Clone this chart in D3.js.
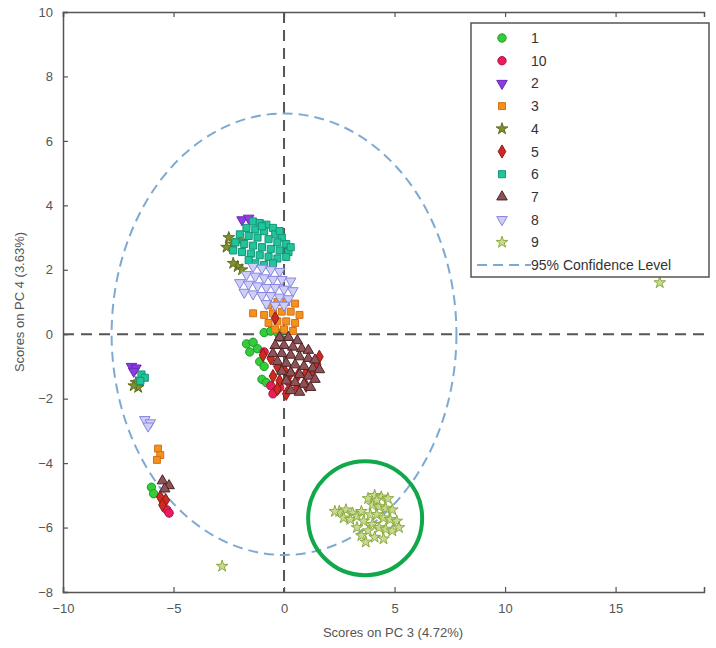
<!DOCTYPE html>
<html>
<head>
<meta charset="utf-8">
<script src="https://cdn.jsdelivr.net/npm/d3@7"></script>
<style>
  body { margin: 0; background: #fff; }
  svg { display: block; font-family: "Liberation Sans", Arial, sans-serif; }
</style>
</head>
<body>
<div id="chart"></div>
<script>
// class labels in legend order
const classes = ['1', '10', '2', '3', '4', '5', '6', '7', '8', '9'];

// scores [PC3, PC4] per class
const pts1 = [[-1.7,-0.3],[-1.4,-0.25],[-1.2,-0.45],[-1.55,-0.55],[-0.9,0.05],[-0.6,0.1],[-0.3,0.05],[-1.1,-0.85],[-0.9,-1.0],[-1.0,-1.4],[-0.8,-1.5],[-0.2,-0.1],[-6.0,-4.75],[-5.9,-4.95]];
const pts10 = [[-0.6,-1.6],[-0.35,-1.75],[-0.5,-1.85],[-0.2,-1.65],[-0.9,-0.55],[-5.3,-5.45],[-5.2,-5.55]];
const pts2 = [[-1.9,3.55],[-1.6,3.6],[-6.9,-1.0],[-6.7,-1.05],[-6.8,-1.15]];
const pts3 = [[-0.7,0.9],[-0.3,1.0],[0.1,1.0],[0.5,0.95],[-0.9,0.6],[-0.5,0.65],[-0.1,0.7],[0.3,0.7],[0.7,0.6],[-0.7,0.35],[-0.3,0.4],[0.1,0.4],[0.5,0.35],[-0.4,0.15],[0.0,0.15],[0.4,0.1],[-1.4,0.65],[-5.7,-3.55],[-5.6,-3.75],[-5.75,-3.9]];
const pts4 = [[-2.5,3.0],[-2.3,2.8],[-2.6,2.7],[-2.1,2.1],[-1.9,2.0],[-2.3,2.2],[-2.0,2.9],[-6.7,-1.5],[-6.6,-1.65],[-6.8,-1.6]];
const pts5 = [[-0.95,-0.65],[-0.6,-0.75],[-0.3,-1.0],[0.0,-1.1],[0.3,-1.2],[0.65,-1.25],[1.0,-1.2],[1.3,-1.1],[1.5,-0.95],[1.6,-0.7],[-0.5,-1.3],[-0.2,-1.45],[0.2,-1.5],[0.6,-1.65],[1.0,-1.6],[-0.3,-1.7],[0.1,-1.85],[-0.4,0.5],[-5.6,-5.05],[-5.35,-5.15],[-5.5,-5.3]];
const pts6 = [[-1.4,3.5],[-1.1,3.45],[-0.8,3.4],[-0.5,3.3],[-1.7,3.3],[-1.3,3.25],[-0.9,3.2],[-0.4,3.1],[-0.1,3.0],[-2.0,3.1],[-1.6,3.05],[-1.2,3.0],[-0.7,2.95],[-0.3,2.85],[0.1,2.8],[-2.2,2.85],[-1.8,2.8],[-1.4,2.75],[-1.0,2.7],[-0.6,2.65],[-0.2,2.6],[0.2,2.55],[-1.9,2.55],[-1.5,2.5],[-1.1,2.45],[-0.7,2.4],[-0.3,2.35],[0.1,2.4],[-1.3,2.2],[-0.9,2.15],[-0.5,2.2],[-1.6,2.3],[-2.3,2.6],[0.3,2.7],[-0.2,3.2],[-1.0,3.35],[-6.45,-1.25],[-6.3,-1.35],[-6.5,-1.45]];
const pts7 = [[-0.2,-0.1],[0.2,-0.1],[0.6,-0.2],[-0.4,-0.35],[0.0,-0.35],[0.4,-0.4],[0.8,-0.45],[1.1,-0.5],[-0.5,-0.6],[-0.1,-0.6],[0.3,-0.65],[0.7,-0.7],[1.1,-0.75],[1.4,-0.8],[-0.3,-0.85],[0.1,-0.9],[0.5,-0.95],[0.9,-1.0],[1.3,-1.05],[1.6,-1.1],[-0.1,-1.15],[0.3,-1.2],[0.7,-1.25],[1.1,-1.3],[1.4,-1.4],[0.1,-1.45],[0.5,-1.5],[0.9,-1.55],[1.2,-1.65],[0.3,-1.75],[0.7,-1.8],[-5.5,-4.55],[-5.2,-4.7],[-5.4,-4.8]];
const pts8 = [[-1.4,2.1],[-1.0,2.05],[-0.6,2.0],[-0.2,1.95],[-1.7,1.85],[-1.3,1.8],[-0.9,1.75],[-0.5,1.7],[-0.1,1.7],[0.3,1.65],[-2.0,1.6],[-1.6,1.55],[-1.2,1.5],[-0.8,1.45],[-0.4,1.45],[0.0,1.4],[0.4,1.35],[-1.4,1.25],[-1.0,1.2],[-0.6,1.2],[-0.2,1.15],[0.2,1.1],[-0.8,0.95],[-0.4,0.9],[0.0,0.9],[-1.8,1.3],[-6.3,-2.65],[-6.05,-2.75],[-6.15,-2.85]];
const pts9 = [[2.5,-5.5],[2.8,-5.45],[3.1,-5.55],[2.7,-5.7],[3.0,-5.75],[3.3,-5.65],[3.5,-5.5],[3.6,-5.8],[3.9,-5.6],[3.8,-5.1],[4.1,-5.0],[4.4,-5.05],[4.7,-5.1],[4.0,-5.3],[4.3,-5.35],[4.6,-5.4],[4.9,-5.45],[4.2,-5.6],[4.5,-5.7],[4.8,-5.75],[5.1,-5.8],[4.0,-5.9],[4.3,-6.0],[4.6,-6.05],[4.9,-6.1],[5.2,-6.0],[3.8,-6.1],[3.5,-6.25],[3.7,-6.45],[4.1,-6.3],[4.5,-6.35],[3.3,-6.0],[2.3,-5.5],[4.2,-5.15],[17.0,1.6],[-2.8,-7.2]];

const xTicks = [-10, -5, 0, 5, 10, 15];
const yTicks = [-8, -6, -4, -2, 0, 2, 4, 6, 8, 10];

// 95% confidence ellipse (semi axes) and highlighted group centre
const ellipse = { cx: 0, cy: 0, rx: 7.8, ry: 6.85 };
const highlight = [3.67, -5.71];

const series = [
  { name: '1', data: pts1, shape: d3.symbolCircle, size: 55, fill: '#33cc3a', stroke: '#1f9a2a' },
  { name: '10', data: pts10, shape: d3.symbolCircle, size: 55, fill: '#ea1c5c', stroke: '#b01245' },
  { name: '2', data: pts2, shape: 'down', size: 48, fill: '#8a3de0', stroke: '#6a26bb' },
  { name: '3', data: pts3, shape: d3.symbolSquare, size: 48, fill: '#f5921e', stroke: '#d0701a' },
  { name: '4', data: pts4, shape: d3.symbolStar, size: 42, fill: '#7f8f2c', stroke: '#5e6c1c' },
  { name: '5', data: pts5, shape: d3.symbolDiamond, size: 50, fill: '#cc2b22', stroke: '#8e1a14' },
  { name: '6', data: pts6, shape: d3.symbolSquare, size: 50, fill: '#22c49a', stroke: '#12957a' },
  { name: '7', data: pts7, shape: d3.symbolTriangle, size: 48, fill: '#8e5358', stroke: '#4c2224' },
  { name: '8', data: pts8, shape: 'down', size: 48, fill: '#cfcff6', stroke: '#8585e2' },
  { name: '9', data: pts9, shape: d3.symbolStar, size: 42, fill: '#c8da92', stroke: '#8aaa3c' },
];

const width = 716, height = 648;
const margin = { top: 12, left: 63, right: 12, bottom: 56 };

const svg = d3.select('#chart').append('svg').attr('width', width).attr('height', height);

const x = d3.scaleLinear().domain([-10, 19]).range([margin.left, width - margin.right]);
const y = d3.scaleLinear().domain([-8, 10]).range([height - margin.bottom, margin.top]);

const axisColor = '#555';

// axes, ticks inward
const gx = svg.append('g').attr('transform', `translate(0,${y(-8)})`)
  .call(d3.axisBottom(x).tickValues(xTicks).tickSize(-5).tickPadding(12));
const gy = svg.append('g').attr('transform', `translate(${x(-10)},0)`)
  .call(d3.axisLeft(y).tickValues(yTicks).tickSize(-5).tickPadding(10));
const gt = svg.append('g').attr('transform', `translate(0,${y(10)})`)
  .call(d3.axisTop(x).tickValues(xTicks).tickSize(-5).tickFormat(''));
[gx, gy, gt].forEach((g) => {
  g.select('.domain').attr('stroke', axisColor).attr('stroke-width', 1.5);
  g.selectAll('.tick line').attr('stroke', axisColor).attr('stroke-width', 1.2);
  g.selectAll('.tick text').attr('fill', '#555').attr('font-size', 13);
});

svg.append('text').attr('x', 393).attr('y', 637).attr('text-anchor', 'middle')
  .attr('font-size', 13).attr('fill', '#555').text('Scores on PC 3 (4.72%)');
svg.append('text').attr('transform', `translate(24,${y(1.0)}) rotate(-90)`).attr('text-anchor', 'middle')
  .attr('font-size', 13).attr('fill', '#555').text('Scores on PC 4 (3.63%)');

// zero lines
svg.append('line').attr('x1', x(0)).attr('x2', x(0)).attr('y1', y(10)).attr('y2', y(-8))
  .attr('stroke', '#555').attr('stroke-width', 2).attr('stroke-dasharray', '11,7');
svg.append('line').attr('x1', x(-10)).attr('x2', x(19)).attr('y1', y(0)).attr('y2', y(0))
  .attr('stroke', '#555').attr('stroke-width', 2).attr('stroke-dasharray', '11,7');

// confidence ellipse
svg.append('ellipse').attr('cx', x(ellipse.cx)).attr('cy', y(ellipse.cy))
  .attr('rx', x(ellipse.rx) - x(0)).attr('ry', y(0) - y(ellipse.ry))
  .attr('fill', 'none').attr('stroke', '#7eaad2').attr('stroke-width', 2).attr('stroke-dasharray', '10,6');

const symbolPath = (shape, size) => d3.symbol().type(shape === 'down' ? d3.symbolTriangle : shape).size(size)();

series.forEach((s) => {
  svg.append('g').selectAll('path').data(s.data).join('path')
    .attr('d', symbolPath(s.shape, s.size))
    .attr('transform', (d) => `translate(${x(d[0])},${y(d[1])})${s.shape === 'down' ? ' rotate(180)' : ''}`)
    .attr('fill', s.fill).attr('stroke', s.stroke).attr('stroke-width', 1);
});

// highlight ring
svg.append('circle').attr('cx', x(highlight[0])).attr('cy', y(highlight[1])).attr('r', 57)
  .attr('fill', 'none').attr('stroke', '#10a84a').attr('stroke-width', 4);

// legend
const lg = svg.append('g');
lg.append('rect').attr('x', 471).attr('y', 23).attr('width', 238).attr('height', 254)
  .attr('fill', '#fff').attr('stroke', '#555').attr('stroke-width', 1.5);
const rowY = (i) => 38 + i * 22.7;
series.forEach((s, i) => {
  lg.append('path').attr('d', symbolPath(s.shape, s.size))
    .attr('transform', `translate(502,${rowY(i)})${s.shape === 'down' ? ' rotate(180)' : ''}`)
    .attr('fill', s.fill).attr('stroke', s.stroke);
  lg.append('text').attr('x', 531).attr('y', rowY(i)).attr('dy', '0.36em')
    .attr('font-size', 14).attr('fill', '#333').text(s.name);
});
lg.append('line').attr('x1', 477).attr('x2', 531).attr('y1', rowY(10)).attr('y2', rowY(10))
  .attr('stroke', '#7eaad2').attr('stroke-width', 2).attr('stroke-dasharray', '10,6');
lg.append('text').attr('x', 531).attr('y', rowY(10)).attr('dy', '0.36em')
  .attr('font-size', 14).attr('fill', '#333').text('95% Confidence Level');
</script>
</body>
</html>
